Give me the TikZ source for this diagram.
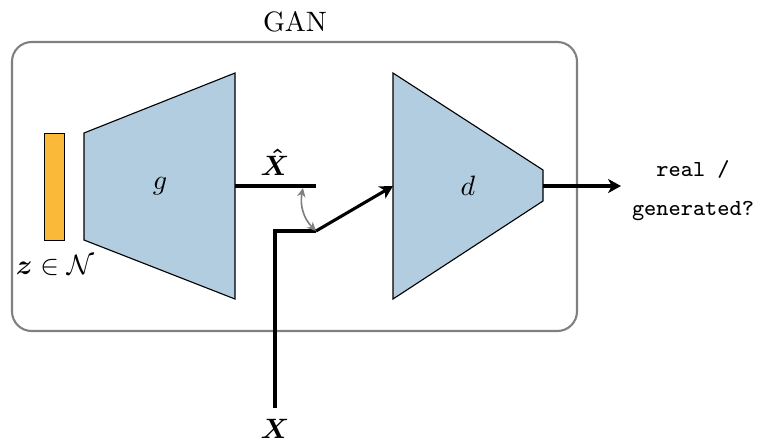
\documentclass[tikz,border=0pt]{standalone}
\usepackage{bm}
\usetikzlibrary{arrows.meta}
\definecolor{netblue}{HTML}{B3CDE0}
\definecolor{zorange}{HTML}{FBB93A}
\begin{document}
\begin{tikzpicture}[x=0.357pt,y=-0.357pt,
  net/.style={draw=black,line width=0.4pt,fill=netblue},
  flow/.style={line width=1.1pt},
  arr/.style={flow,-{Stealth[length=4.6pt,width=5pt,inset=1.3pt]}},
  lbl/.style={inner sep=0pt},
  tt/.style={lbl,font=\fontsize{8.2}{10}\selectfont\ttfamily},
  swap/.style={gray,line width=0.6pt,{Stealth[length=3.2pt,width=3pt]}-{Stealth[length=3.2pt,width=3pt]}},
]
\useasboundingbox (0,0) rectangle (758,441);
% GAN box
\draw[gray,line width=0.75pt,rounded corners=7pt] (12,42) rectangle (577,331);
\node[lbl] (gan) at (295,22) {GAN};
% z
\draw[fill=zorange,line width=0.35pt] (44,133) rectangle (64,240);
\node[lbl] (z) at (55,265) {$\bm{z}\in\mathcal{N}$};
% generator
\draw[net] (84,133) -- (235,73) -- (235,299) -- (84,240) -- cycle;
\node[lbl] (g) at (160,186) {$g$};
% discriminator
\draw[net] (393,73) -- (543,170) -- (543,201) -- (393,299) -- cycle;
\node[lbl] (d) at (468,186) {$d$};
% coordinates
\coordinate (gout) at (235,186);
\coordinate (xhatend) at (316,186);
\coordinate (xbot) at (275,408);
\coordinate (xcorner) at (275,231);
\coordinate (xjoin) at (316,231);
\coordinate (din) at (393,186);
\coordinate (dout) at (543,186);
\coordinate (outend) at (621,186);
\coordinate (swA) at (303,188);
% lines
\draw[flow] (gout) -- (xhatend);
\node[lbl] (xhat) at (275,162) {$\bm{\hat{X}}$};
\draw[flow] (xbot) -- (xcorner) -- (xjoin);
\draw[arr] (xjoin) -- (din);
\node[lbl] (x) at (275,429) {$\bm{X}$};
\draw[arr] (dout) -- (outend);
\draw[swap] (swA) to[bend right=28] (xjoin);
% output text
\node[tt] (real) at (693,169) {real /};
\node[tt] (gen) at (693,211) {generated?};
\end{tikzpicture}
\end{document}
